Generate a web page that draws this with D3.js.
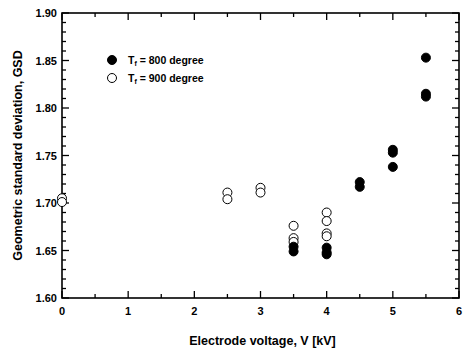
<!DOCTYPE html>
<html>
<head>
<meta charset="utf-8">
<script src="https://cdn.jsdelivr.net/npm/d3@7"></script>
<style>
  body { margin: 0; background: #fff; }
  text { font-family: "Liberation Sans", Arial, sans-serif; font-weight: bold; fill: #000; }
</style>
</head>
<body>
<script>
// Tf = 800 degree (filled)
var voltage800 = [3.5, 3.5, 4, 4, 4, 4.5, 4.5, 5, 5, 5, 5.5, 5.5, 5.5];
var gsd800     = [1.654, 1.649, 1.653, 1.648, 1.646, 1.722, 1.717, 1.756, 1.753, 1.738, 1.853, 1.815, 1.812];
// Tf = 900 degree (open)
var voltage900 = [0, 0, 2.5, 2.5, 3, 3, 3.5, 3.5, 3.5, 4, 4, 4, 4];
var gsd900     = [1.705, 1.701, 1.711, 1.704, 1.716, 1.711, 1.676, 1.663, 1.659, 1.690, 1.681, 1.668, 1.665];

var xTicks = [0, 1, 2, 3, 4, 5, 6];
var yTicks = [1.60, 1.65, 1.70, 1.75, 1.80, 1.85, 1.90];

var W = 466, H = 349;
var pLeft = 62, pRight = 459, pTop = 13, pBottom = 298;

var svg = d3.select("body").append("svg")
    .attr("width", W)
    .attr("height", H);

var x = d3.scaleLinear().domain([0, 6]).range([pLeft, pRight]);
var y = d3.scaleLinear().domain([1.60, 1.90]).range([pBottom, pTop]);

// frame
svg.append("rect")
    .attr("x", pLeft).attr("y", pTop)
    .attr("width", pRight - pLeft).attr("height", pBottom - pTop)
    .attr("fill", "none").attr("stroke", "#000").attr("stroke-width", 1.6);

// ticks inside the frame
var yMinor = d3.range(0, 31).map(function(i) { return 1.60 + i * 0.01; });
yMinor.forEach(function(v, i) {
  var len = i % 5 === 0 ? 7 : 4;
  svg.append("line").attr("x1", pLeft).attr("x2", pLeft + len)
      .attr("y1", y(v)).attr("y2", y(v)).attr("stroke", "#000").attr("stroke-width", 1.3);
  svg.append("line").attr("x1", pRight).attr("x2", pRight - len)
      .attr("y1", y(v)).attr("y2", y(v)).attr("stroke", "#000").attr("stroke-width", 1.3);
});
var xMinor = d3.range(0, 13).map(function(i) { return i * 0.5; });
xMinor.forEach(function(v, i) {
  var len = i % 2 === 0 ? 7 : 4;
  svg.append("line").attr("x1", x(v)).attr("x2", x(v))
      .attr("y1", pBottom).attr("y2", pBottom - len).attr("stroke", "#000").attr("stroke-width", 1.3);
  svg.append("line").attr("x1", x(v)).attr("x2", x(v))
      .attr("y1", pTop).attr("y2", pTop + len).attr("stroke", "#000").attr("stroke-width", 1.3);
});

// tick labels
svg.selectAll(".ylab").data(yTicks).enter().append("text")
    .attr("x", pLeft - 5).attr("y", function(d) { return y(d) + 4; })
    .attr("text-anchor", "end").attr("font-size", 11)
    .text(function(d) { return d.toFixed(2); });
svg.selectAll(".xlab").data(xTicks).enter().append("text")
    .attr("x", function(d) { return x(d); }).attr("y", pBottom + 17)
    .attr("text-anchor", "middle").attr("font-size", 11)
    .text(function(d) { return d; });

// axis titles
svg.append("text")
    .attr("x", (pLeft + pRight) / 2 + 2).attr("y", 345)
    .attr("text-anchor", "middle").attr("font-size", 12.5)
    .text("Electrode voltage, V [kV]");
svg.append("text")
    .attr("transform", "translate(22," + ((pTop + pBottom) / 2) + ") rotate(-90)")
    .attr("text-anchor", "middle").attr("font-size", 12.5)
    .text("Geometric standard deviation, GSD");

// data points
var r = 4.5;
voltage900.forEach(function(v, i) {
  svg.append("circle").attr("cx", x(v)).attr("cy", y(gsd900[i])).attr("r", r)
      .attr("fill", "#fff").attr("stroke", "#000").attr("stroke-width", 1);
});
voltage800.forEach(function(v, i) {
  svg.append("circle").attr("cx", x(v)).attr("cy", y(gsd800[i])).attr("r", r)
      .attr("fill", "#000").attr("stroke", "#000").attr("stroke-width", 1);
});

// legend
var legend = [
  { label: "800 degree", filled: true },
  { label: "900 degree", filled: false }
];
legend.forEach(function(d, i) {
  var ly = 60 + i * 18;
  svg.append("circle").attr("cx", 112).attr("cy", ly).attr("r", r)
      .attr("fill", d.filled ? "#000" : "#fff").attr("stroke", "#000").attr("stroke-width", 1);
  var t = svg.append("text").attr("x", 128).attr("y", ly + 4).attr("font-size", 10.5);
  t.append("tspan").text("T");
  t.append("tspan").attr("font-size", 7).attr("dy", 2).text("f");
  t.append("tspan").attr("dy", -2).text(" = " + d.label);
});
</script>
</body>
</html>
